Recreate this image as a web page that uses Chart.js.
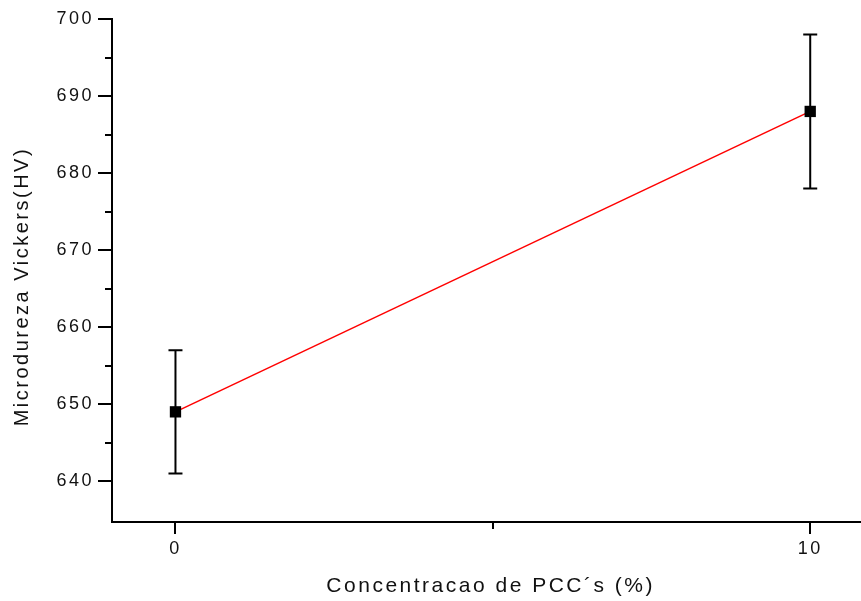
<!DOCTYPE html>
<html>
<head>
<meta charset="utf-8">
<script src="https://cdn.jsdelivr.net/npm/chart.js@4.4.1/dist/chart.umd.min.js"></script>
<style>
    body { margin: 0; background: #fff; overflow: hidden; }
    canvas { display: block; }
</style>
</head>
<body>
<canvas id="chart" width="861" height="601"></canvas>
<script>
// data
const concentrations = [0, 10];
const hardness = [649, 688];
const hardnessErr = [8, 10];

const xTicks = [0, 10];
const xMinorTicks = [5];
const yTicks = [640, 650, 660, 670, 680, 690, 700];
const yMinorTicks = [645, 655, 665, 675, 685, 695];

let chartArea = document.getElementById('chart').getContext('2d');

// letter spacing for all text (canvas state, set before each draw)
const spacing = {
    id: 'spacing',
    beforeDraw(chart) {
        chart.ctx.letterSpacing = '2.5px';
    }
};

// vertical error bars, drawn under the markers
const errorBars = {
    id: 'errorBars',
    beforeDatasetsDraw(chart) {
        let ctx = chart.ctx;
        let xs = chart.scales.x;
        let ys = chart.scales.y;
        ctx.save();
        ctx.strokeStyle = '#000';
        ctx.lineWidth = 2;
        for (let i = 0; i < concentrations.length; i++) {
            let px = xs.getPixelForValue(concentrations[i]);
            let top = ys.getPixelForValue(hardness[i] + hardnessErr[i]);
            let bot = ys.getPixelForValue(hardness[i] - hardnessErr[i]);
            ctx.beginPath();
            ctx.moveTo(px, top);
            ctx.lineTo(px, bot);
            ctx.moveTo(px - 7, top);
            ctx.lineTo(px + 7, top);
            ctx.moveTo(px - 7, bot);
            ctx.lineTo(px + 7, bot);
            ctx.stroke();
        }
        ctx.restore();
    }
};

// short minor ticks on both axes
const minorTicks = {
    id: 'minorTicks',
    afterDraw(chart) {
        let ctx = chart.ctx;
        let xs = chart.scales.x;
        let ys = chart.scales.y;
        ctx.save();
        ctx.strokeStyle = '#000';
        ctx.lineWidth = 2;
        ctx.beginPath();
        yMinorTicks.forEach((v) => {
            let py = Math.round(ys.getPixelForValue(v));
            ctx.moveTo(xs.left, py);
            ctx.lineTo(xs.left - 7, py);
        });
        xMinorTicks.forEach((v) => {
            let px = Math.round(xs.getPixelForValue(v));
            ctx.moveTo(px, ys.bottom);
            ctx.lineTo(px, ys.bottom + 7);
        });
        ctx.stroke();
        ctx.restore();
    }
};

let myChart = new Chart(chartArea, {
    type: 'line',
    data: {
        datasets: [{
            data: concentrations.map((c, i) => ({ x: c, y: hardness[i] })),
            borderColor: '#ff0000',
            borderWidth: 1.5,
            pointStyle: 'rect',
            pointRadius: 8,
            pointBackgroundColor: '#000',
            pointBorderColor: '#000',
            pointBorderWidth: 0,
            tension: 0
        }]
    },
    options: {
        responsive: false,
        animation: false,
        layout: {
            autoPadding: false,
            padding: { left: 0, top: 19, right: 0, bottom: 0 }
        },
        plugins: {
            legend: { display: false },
            tooltip: { enabled: false }
        },
        scales: {
            x: {
                type: 'linear',
                min: -1,
                max: 10.8,
                afterBuildTicks: (s) => { s.ticks = xTicks.map((v) => ({ value: v })); },
                afterFit: (s) => {
                    s.height = 79;
                    s.paddingLeft = 0;
                    s.paddingRight = 0;
                },
                border: { color: '#000', width: 2 },
                grid: {
                    drawOnChartArea: false,
                    color: '#000',
                    lineWidth: 2,
                    tickLength: 12
                },
                ticks: {
                    color: '#111',
                    padding: 4,
                    font: { family: 'Liberation Sans', size: 18 }
                },
                title: {
                    display: true,
                    text: ' Concentracao de PCC´s (%)',
                    color: '#111',
                    padding: { top: 0, bottom: 2 },
                    font: { family: 'Liberation Sans', size: 21 }
                }
            },
            y: {
                min: 634.7,
                max: 700,
                afterBuildTicks: (s) => { s.ticks = yTicks.map((v) => ({ value: v })); },
                afterFit: (s) => { s.width = 112; },
                border: { color: '#000', width: 2 },
                grid: {
                    drawOnChartArea: false,
                    color: '#000',
                    lineWidth: 2,
                    tickLength: 14
                },
                ticks: {
                    color: '#111',
                    padding: 4,
                    font: { family: 'Liberation Sans', size: 18 }
                },
                title: {
                    display: true,
                    text: 'Microdureza Vickers(HV)    ',
                    color: '#111',
                    padding: { top: 10, bottom: 0 },
                    font: { family: 'Liberation Sans', size: 20 }
                }
            }
        }
    },
    plugins: [spacing, errorBars, minorTicks]
});
</script>
</body>
</html>
